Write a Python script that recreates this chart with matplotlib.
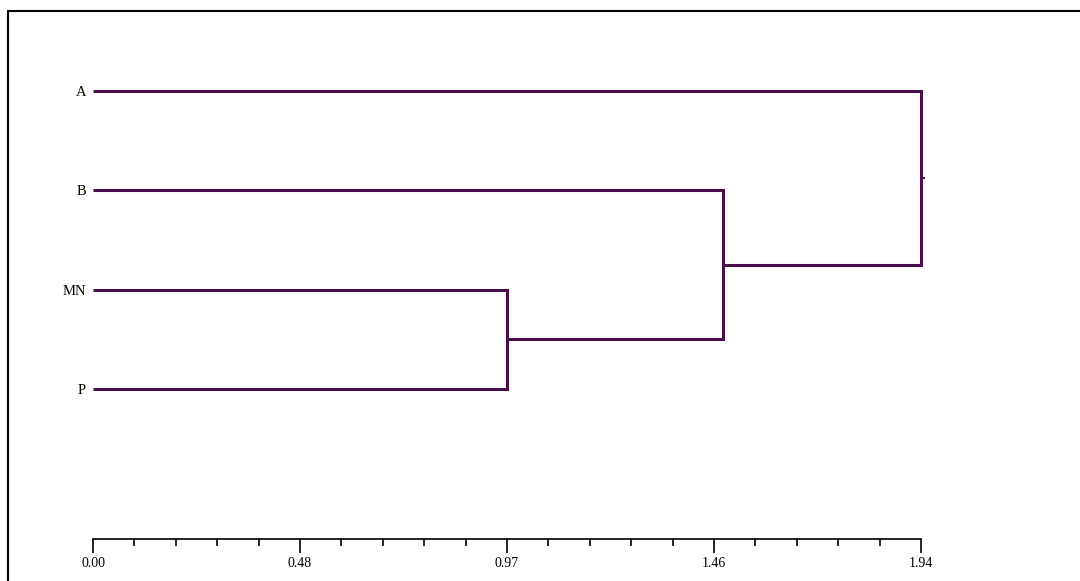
import matplotlib
matplotlib.use("Agg")
import matplotlib.pyplot as plt
from matplotlib.patches import Rectangle

# Data
leaves = ["A", "B", "MN", "P"]
# merges: (left cluster, right cluster, height) ; clusters indexed leaves 0..3, new ones 4..
merges = [(2, 3, 0.97), (1, 4, 1.475), (0, 5, 1.94)]
tick_values = [0.0, 0.485, 0.97, 1.455, 1.94]
tick_labels = ["0.00", "0.48", "0.97", "1.46", "1.94"]

color = "#4b0f4b"
W, H = 1080, 581
fig = plt.figure(figsize=(W / 100, H / 100), dpi=100)
fig.patch.set_facecolor("white")
fig.patches.append(Rectangle((8 / W, -0.1), 1.2, 1 - 11 / H + 0.1, transform=fig.transFigure,
                             fill=False, edgecolor="black", linewidth=1.5))

left, right = 93 / W, 921 / W
top, bottom = 1 - 91 / H, 1 - 539 / H
ax = fig.add_axes([left, bottom, right - left, top - bottom])
ax.set_xlim(0, 1.94)
ax.set_ylim(4.51, 0)

pos = {i: float(i) for i in range(len(leaves))}
hgt = {i: 0.0 for i in range(len(leaves))}
nid = len(leaves)
for a, b, h in merges:
    ya, yb = pos[a], pos[b]
    ax.plot([hgt[a], h], [ya, ya], color=color, lw=2.2, solid_capstyle="butt", clip_on=False)
    ax.plot([hgt[b], h], [yb, yb], color=color, lw=2.2, solid_capstyle="butt", clip_on=False)
    ax.plot([h, h], [ya, yb], color=color, lw=2.2, solid_capstyle="projecting", clip_on=False)
    pos[nid] = (ya + yb) / 2
    hgt[nid] = h
    nid += 1
root = nid - 1
ax.plot([hgt[root], hgt[root] + 0.008], [pos[root], pos[root]], color=color, lw=1.5, clip_on=False)

for s in ["top", "right", "left"]:
    ax.spines[s].set_visible(False)
ax.spines["bottom"].set_bounds(0, 1.94)
ax.spines["bottom"].set_linewidth(1.2)
ax.set_yticks(range(len(leaves)))
ax.set_yticklabels(leaves, fontfamily="Liberation Serif", fontsize=10.5)
ax.tick_params(axis="y", length=0, pad=5)
ax.set_xticks(tick_values)
ax.set_xticklabels(tick_labels, fontfamily="Liberation Serif", fontsize=10)
ax.set_xticks([i * 0.097 for i in range(21)], minor=True)
ax.tick_params(axis="x", which="major", length=10, width=1.2, pad=3)
ax.tick_params(axis="x", which="minor", length=5, width=1.2)

fig.savefig("out.png", dpi=100)
